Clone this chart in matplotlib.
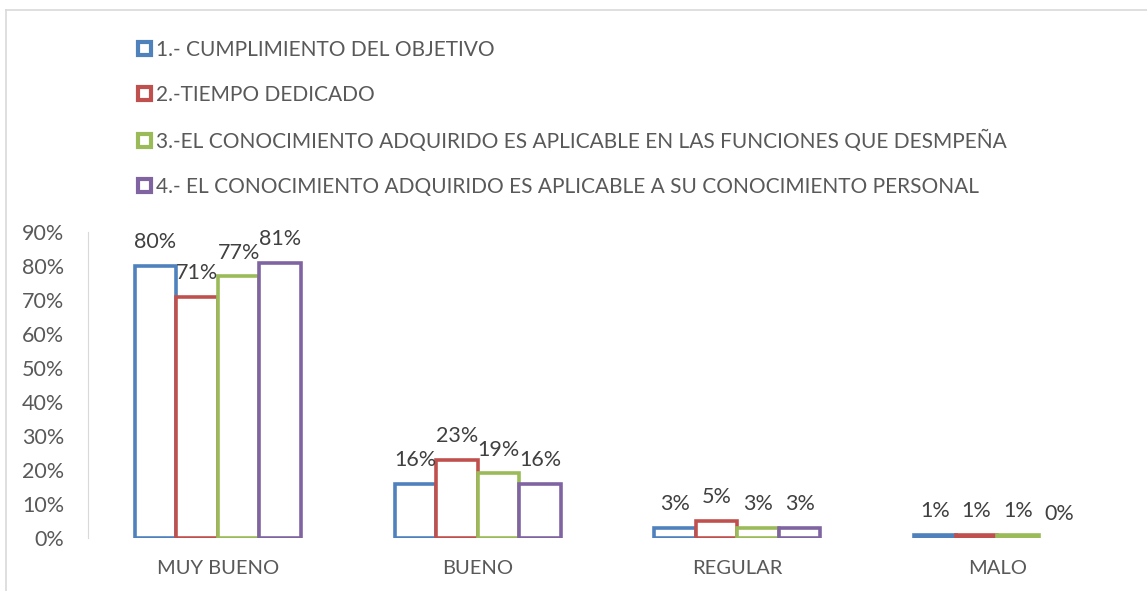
import matplotlib.pyplot as plt
import numpy as np
from matplotlib.patches import Rectangle
from matplotlib.lines import Line2D

plt.rcParams['font.family'] = ['Lato', 'DejaVu Sans']

# data
categories = ['MUY BUENO', 'BUENO', 'REGULAR', 'MALO']
series_names = ['1.- CUMPLIMIENTO DEL OBJETIVO',
                '2.-TIEMPO DEDICADO',
                '3.-EL CONOCIMIENTO ADQUIRIDO ES APLICABLE EN LAS FUNCIONES QUE DESMPEÑA',
                '4.- EL CONOCIMIENTO ADQUIRIDO ES APLICABLE A SU CONOCIMIENTO PERSONAL']
cumplimiento = [80, 16, 3, 1]
tiempo = [71, 23, 5, 1]
aplicable_funciones = [77, 19, 3, 1]
aplicable_personal = [81, 16, 3, 0]
values = [cumplimiento, tiempo, aplicable_funciones, aplicable_personal]
colors = ['#4f81bd', '#c0504d', '#9bbb59', '#8064a2']
yticks = [0, 10, 20, 30, 40, 50, 60, 70, 80, 90]

W, H = 1147, 591
fig = plt.figure(figsize=(W / 100, H / 100), dpi=100)
ax = fig.add_axes([88 / W, 53 / H, (1127 - 88) / W, 306 / H])

x = np.arange(len(categories))
bw = 0.16
handles = []
for i, vals in enumerate(values):
    pos = x + (i - 1.5) * bw
    v = np.array(vals) / 100
    bars = ax.bar(pos, v, bw, facecolor='white', edgecolor=colors[i], linewidth=2.6)
    for b, val in zip(bars, vals):
        if val == 0:
            b.set_visible(False)
        ax.annotate('{}%'.format(val), (b.get_x() + b.get_width() / 2, val / 100),
                    xytext=(0, 17), textcoords='offset points', ha='center', va='center',
                    fontsize=15.5, color='#404040')
    handles.append(Rectangle((0, 0), 1, 1, facecolor='white', edgecolor=colors[i], linewidth=3))

ax.set_xlim(-0.5, 3.5)
ax.set_ylim(0, 0.9)
ax.set_yticks(np.array(yticks) / 100)
ax.set_yticklabels(['{}%'.format(t) for t in yticks])
ax.set_xticks(x)
ax.set_xticklabels(categories)
ax.tick_params(axis='y', length=0, pad=17, labelsize=15.5, labelcolor='#595959')
ax.tick_params(axis='x', length=0, pad=16, labelsize=14.5, labelcolor='#595959')
for s in ['top', 'right', 'bottom']:
    ax.spines[s].set_visible(False)
ax.spines['left'].set_color('#d9d9d9')

leg = fig.legend(handles, series_names, loc='upper left', bbox_to_anchor=(138 / W, 1 - 40 / H),
                 frameon=False, fontsize=15, labelcolor='#595959', handlelength=0.6,
                 handleheight=0.6, handletextpad=0.25, labelspacing=1.2, borderpad=0,
                 borderaxespad=0)

# outer chart border
fig.add_artist(Line2D([6 / W, 6 / W], [0, 1 - 10 / H], color='#d9d9d9', lw=1.2, transform=fig.transFigure))
fig.add_artist(Line2D([6 / W, 1], [1 - 10 / H, 1 - 10 / H], color='#d9d9d9', lw=1.2, transform=fig.transFigure))

fig.savefig('out.png', dpi=100)
